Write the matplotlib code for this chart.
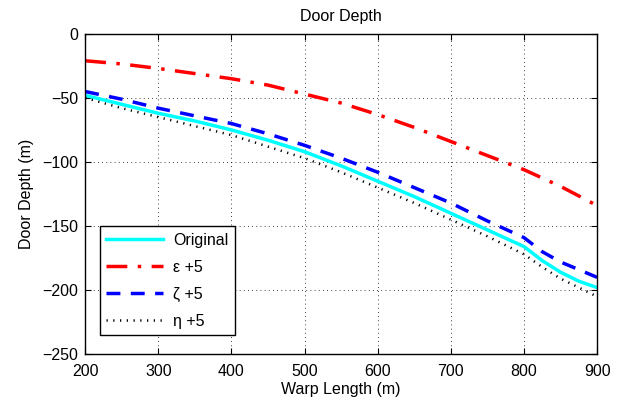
import matplotlib
matplotlib.use('Agg')
from matplotlib import pyplot as plt

plt.rcParams['font.family'] = ['Liberation Sans', 'DejaVu Sans']
plt.rcParams['font.size'] = 11.5

# warp length (m) and door depth (m) for each case
x_orig = [200, 250, 300, 350, 400, 450, 500, 550, 600, 650, 700, 750, 800, 825, 850, 875, 900]
y_orig = [-48, -55, -62, -68, -75, -83, -92, -103, -115, -127, -140, -153, -166, -177, -186, -193, -198]

x_eps = [200, 250, 300, 350, 400, 450, 500, 550, 600, 650, 700, 750, 800, 850, 900]
y_eps = [-21, -23.5, -27, -31, -35, -40, -47, -54, -63, -73, -84, -95, -106, -119, -134]

x_zeta = [200, 250, 300, 350, 400, 450, 500, 550, 600, 650, 700, 750, 800, 825, 850, 875, 900]
y_zeta = [-45, -51, -58, -64, -70, -78, -87, -97, -108, -120, -132, -146, -159, -170, -178, -184, -190]

x_eta = [200, 250, 300, 350, 400, 450, 500, 550, 600, 650, 700, 750, 800, 825, 850, 875, 900]
y_eta = [-50, -58, -65, -72, -79, -88, -97, -108, -120, -132, -145, -158, -172, -182, -191, -198, -205]

fig = plt.figure(figsize=(6.22, 4.03), dpi=100)
ax = fig.add_axes([0.137, 0.121, 0.823, 0.795])

ax.plot(x_orig, y_orig, color='cyan', linestyle='-', linewidth=2.5, label='Original')
ax.plot(x_eps, y_eps, color='red', linestyle=(0, (6, 3, 1, 3)), linewidth=2.5, label='ε +5')
ax.plot(x_zeta, y_zeta, color='blue', linestyle=(0, (4, 3)), linewidth=2.5, label='ζ +5')
ax.plot(x_eta, y_eta, color='black', linestyle=(0, (0.5, 2.2)), linewidth=1.8, label='η +5')

ax.set_xlim(200, 900)
ax.set_ylim(-250, 0)
ax.set_xticks(range(200, 901, 100))
ax.set_yticks(range(-250, 1, 50))
ax.grid(True, color='black', linestyle=(0, (1, 4)), linewidth=0.6)
ax.tick_params(direction='in', top=True, right=True, length=4)
ax.tick_params(axis='x', pad=7)
ax.tick_params(axis='y', pad=5)
for s in ax.spines.values():
    s.set_linewidth(1)

ax.set_title('Door Depth', fontsize=11.5, pad=9)
ax.set_xlabel('Warp Length (m)', labelpad=2)
ax.set_ylabel('Door Depth (m)', labelpad=6)

leg = ax.legend(loc='lower left', bbox_to_anchor=(0.028, 0.06), fancybox=False,
                edgecolor='black', framealpha=1, handlelength=3.6, labelspacing=0.75,
                handletextpad=0.6, borderaxespad=0)
leg.get_frame().set_linewidth(1)

plt.savefig('out.png', dpi=100)
